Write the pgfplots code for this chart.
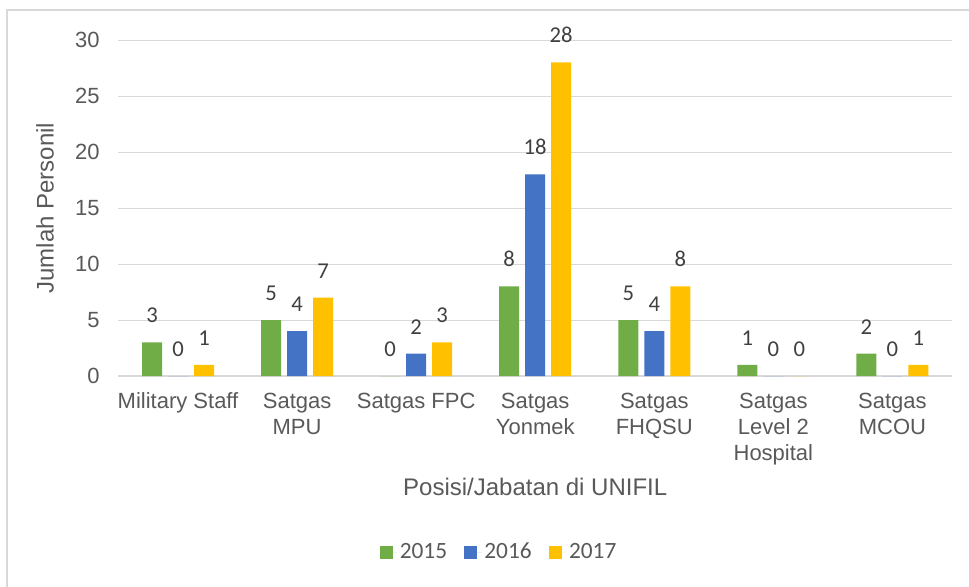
\documentclass[border=0pt]{standalone}
\usepackage{pgfplots}
\pgfplotsset{compat=1.18}
\usepackage{fontspec}
\setmainfont{Liberation Sans}
\newfontfamily\calibri{Carlito}
\definecolor{cg}{HTML}{70AD47}
\definecolor{cb}{HTML}{4472C4}
\definecolor{cy}{HTML}{FFC000}
\definecolor{txt}{HTML}{595959}
\definecolor{lbl}{HTML}{404040}
\definecolor{grd}{HTML}{D9D9D9}
\begin{document}
\begin{tikzpicture}[x=0.75pt,y=0.75pt]
\begin{axis}[
  scale only axis, width=625.1pt, height=252pt,
  ybar=4.5pt, bar width=15pt,
  xmin=-0.5, xmax=6.5, ymin=0, ymax=30,
  enlarge x limits=false,
  xtick={0,...,6},
  xticklabels={{Military Staff},{Satgas\\MPU},{Satgas FPC},{Satgas\\Yonmek},{Satgas\\FHQSU},{Satgas\\Level 2\\Hospital},{Satgas\\MCOU}},
  ytick={0,5,...,30},
  axis line style={draw=none},
  major tick length=0pt,
  ymajorgrids, grid style={grd, line width=0.75pt},
  extra y ticks={0}, extra y tick labels={},
  extra y tick style={grid style={grd, line width=1.5pt}},
  /pgf/number format/assume math mode=true,
  ticklabel style={font=\fontsize{16.5}{19.5}\selectfont, text=txt},
  xticklabel style={align=center, anchor=north, inner sep=0pt, yshift=-12.5pt},
  yticklabel style={anchor=east, inner sep=0pt, xshift=-13.9pt},
  xlabel={Posisi/Jabatan di UNIFIL},
  ylabel={Jumlah Personil},
  xlabel style={at={(axis description cs:0.5,-0.330)}, anchor=center, font=\fontsize{18}{21}\selectfont, text=txt},
  ylabel style={at={(axis description cs:-0.088,0.5)}, anchor=center, font=\fontsize{18}{21}\selectfont, text=txt},
  nodes near coords,
  every node near coord/.append style={font=\calibri\fontsize{17}{19}\selectfont, text=lbl, inner sep=0pt, anchor=south, yshift=14.5pt},
  legend columns=3,
  legend style={at={(0.457,-0.524)}, anchor=center, draw=none, fill=none,
    font=\calibri\fontsize{17.5}{20}\selectfont, text=txt,
    /tikz/every even column/.append style={column sep=11pt}},
  legend image code/.code={\fill[#1] (0pt,-4.9pt) rectangle (9.75pt,4.9pt); \path (0pt,0pt) -- (13pt,0pt);},
]
\addplot[fill=cg, draw=none] coordinates {(0,3) (1,5) (2,0) (3,8) (4,5) (5,1) (6,2)};
\addplot[fill=cb, draw=none] coordinates {(0,0) (1,4) (2,2) (3,18) (4,4) (5,0) (6,0)};
\addplot[fill=cy, draw=none] coordinates {(0,1) (1,7) (2,3) (3,28) (4,8) (5,0) (6,1)};
\legend{2015,2016,2017}
\coordinate (O) at (rel axis cs:0,0);
\end{axis}
\draw[grd, line width=1.5pt] (O) ++(-111,-220) -- ++(0,586) -- ++(980,0);
\pgfresetboundingbox
\path[use as bounding box] (O) ++(-118.5,-210) rectangle ++(969,586);
\end{tikzpicture}
\end{document}
